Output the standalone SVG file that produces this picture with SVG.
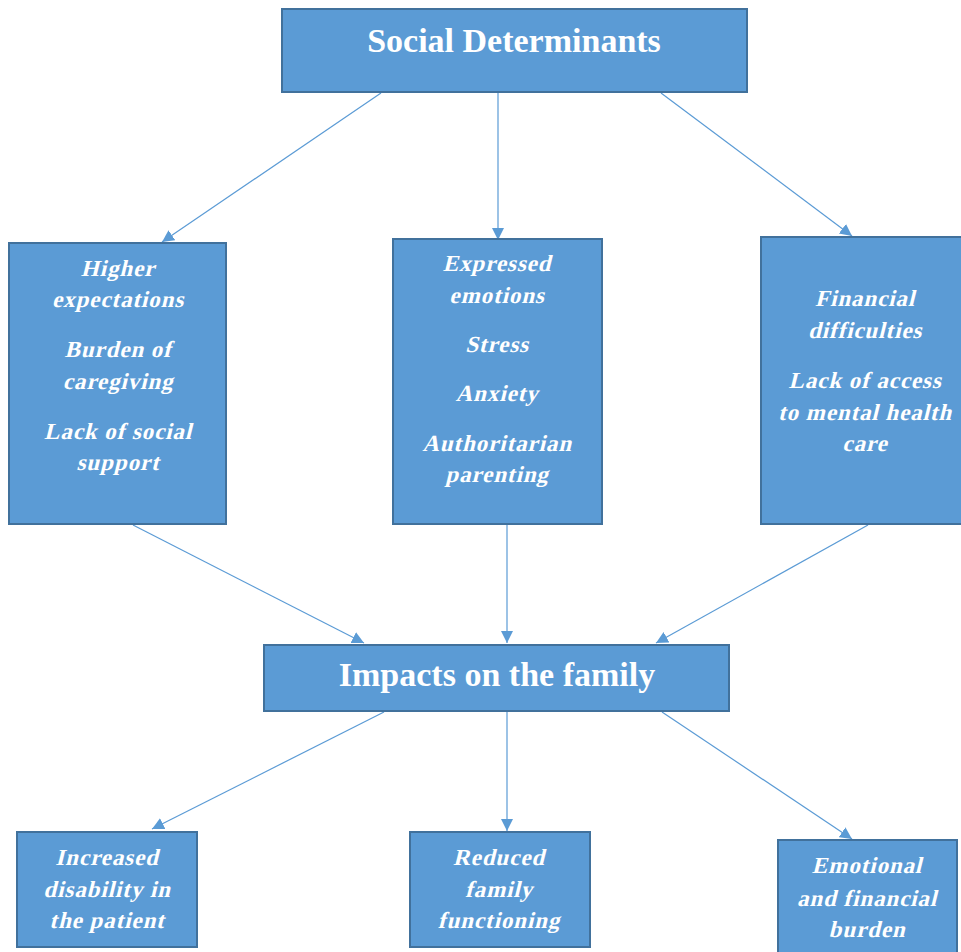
<svg xmlns="http://www.w3.org/2000/svg" width="961" height="952" viewBox="0 0 961 952">
<defs>
<marker id="ah" markerUnits="userSpaceOnUse" markerWidth="14" markerHeight="14" viewBox="0 0 14 14" refX="12" refY="7" orient="auto">
<path d="M0,1 L12,7 L0,13 Z" fill="#5b9bd5"/>
</marker>
<style>
.box{fill:#5b9bd5;stroke:#41719c;stroke-width:2}
.title{font-family:"Liberation Serif",serif;font-weight:bold;font-size:34px;fill:#fff;text-anchor:middle}
.t{font-family:"Liberation Serif",serif;font-weight:bold;font-size:23px;letter-spacing:0.9px;fill:#fff;text-anchor:middle}
.c{stroke:#5b9bd5;stroke-width:1.2;fill:none;marker-end:url(#ah)}
</style>
</defs>
<rect width="961" height="952" fill="#fff"/>
<g id="connectors">
<line class="c" x1="381" y1="93" x2="162" y2="242"/>
<line class="c" x1="498" y1="93" x2="498" y2="240"/>
<line class="c" x1="661" y1="93" x2="852" y2="236"/>
<line class="c" x1="133" y1="525" x2="364" y2="643"/>
<line class="c" x1="507" y1="525" x2="507" y2="643"/>
<line class="c" x1="868" y1="525" x2="656" y2="643"/>
<line class="c" x1="384" y1="712" x2="152" y2="829"/>
<line class="c" x1="507" y1="712" x2="507" y2="831"/>
<line class="c" x1="662" y1="712" x2="852" y2="839"/>
</g>
<g id="social-determinants">
<rect class="box" x="282" y="9" width="465" height="83"/>
<text class="title" x="514" y="52">Social Determinants</text>
</g>
<g id="family-factors">
<rect class="box" x="9" y="243" width="217" height="281"/>
<text class="t" transform="translate(118,276) skewX(-14)">Higher</text>
<text class="t" transform="translate(118,307) skewX(-14)">expectations</text>
<text class="t" transform="translate(118,357) skewX(-14)">Burden of</text>
<text class="t" transform="translate(118,389) skewX(-14)">caregiving</text>
<text class="t" transform="translate(118,439) skewX(-14)">Lack of social</text>
<text class="t" transform="translate(118,470) skewX(-14)">support</text>
</g>
<g id="psychological-factors">
<rect class="box" x="393" y="239" width="209" height="285"/>
<text class="t" transform="translate(497,271) skewX(-14)">Expressed</text>
<text class="t" transform="translate(497,303) skewX(-14)">emotions</text>
<text class="t" transform="translate(497,352) skewX(-14)">Stress</text>
<text class="t" transform="translate(497,401) skewX(-14)">Anxiety</text>
<text class="t" transform="translate(497,451) skewX(-14)">Authoritarian</text>
<text class="t" transform="translate(497,482) skewX(-14)">parenting</text>
</g>
<g id="economic-factors">
<rect class="box" x="761" y="237" width="210" height="287"/>
<text class="t" transform="translate(865,306) skewX(-14)">Financial</text>
<text class="t" transform="translate(865,338) skewX(-14)">difficulties</text>
<text class="t" transform="translate(865,388) skewX(-14)">Lack of access</text>
<text class="t" transform="translate(865,420) skewX(-14)">to mental health</text>
<text class="t" transform="translate(865,451) skewX(-14)">care</text>
</g>
<g id="impacts">
<rect class="box" x="264" y="645" width="465" height="66"/>
<text class="title" x="497" y="686">Impacts on the family</text>
</g>
<g id="increased-disability">
<rect class="box" x="17" y="832" width="180" height="115"/>
<text class="t" transform="translate(107,865) skewX(-14)">Increased</text>
<text class="t" transform="translate(107,897) skewX(-14)">disability in</text>
<text class="t" transform="translate(107,928) skewX(-14)">the patient</text>
</g>
<g id="reduced-functioning">
<rect class="box" x="410" y="832" width="180" height="115"/>
<text class="t" transform="translate(499,865) skewX(-14)">Reduced</text>
<text class="t" transform="translate(499,897) skewX(-14)">family</text>
<text class="t" transform="translate(499,928) skewX(-14)">functioning</text>
</g>
<g id="emotional-burden">
<rect class="box" x="778" y="840" width="179" height="120"/>
<text class="t" transform="translate(867,873) skewX(-14)">Emotional</text>
<text class="t" transform="translate(867,906) skewX(-14)">and financial</text>
<text class="t" transform="translate(867,937) skewX(-14)">burden</text>
</g>
</svg>
